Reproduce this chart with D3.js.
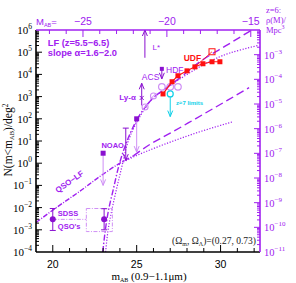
<!DOCTYPE html>
<html lang="en">
<head>
<meta charset="UTF-8">
<title>z~6 counts</title>
<style>
  body { margin: 0; background: #fff; }
  svg { display: block; }
  .serif { font-family: "Liberation Serif", "DejaVu Serif", serif; }
  .sans { font-family: "Liberation Sans", Arial, sans-serif; }
</style>
</head>
<body>
<svg id="chart" width="296" height="283"></svg>
<script src="https://cdn.jsdelivr.net/npm/d3@7/dist/d3.min.js"></script>
<script>
// all series: [m_AB, log10 N(<m)/deg2]
var qsoLF      = [[19, -2.67], [20.4, -1.9], [21.6, -1.27], [22.8, -0.6], [24, 0], [24.8, 0.33]];
var lowDashed  = [[24.8, 0.33], [25.8, 0.85], [27, 1.35], [28.5, 2.0], [30.45, 2.85], [31.7, 3.4]];
var lowDotted  = [[24.2, 0.05], [25, 0.35], [25.8, 0.6], [27, 0.95], [28.5, 1.35], [30.7, 1.86]];
var steepA     = [[22.98, -4], [23.1, -3.2], [23.3, -2.2], [23.6, -1.2], [24, 0.05], [24.4, 0.95], [24.8, 1.65], [25.2, 2.2], [25.6, 2.62]];
var upDashed   = [[25.6, 2.62], [26, 2.95], [26.6, 3.3], [27.5, 3.8], [28.77, 4.57], [30.43, 5.34], [31.86, 6.0]];
var steepB     = [[23.15, -4], [23.3, -3.0], [23.55, -2.0], [23.85, -1.0], [24.2, 0.1], [24.5, 1.0], [24.9, 1.7], [25.4, 2.35], [26, 2.95], [27, 3.5], [28, 4.0], [29.15, 4.5], [30.5, 4.95], [32.2, 5.3]];
var udfPoints  = [[26.57, 3.12], [27.11, 3.67], [27.46, 3.94], [28.0, 4.16], [28.47, 4.34], [28.95, 4.48], [29.49, 4.57], [29.96, 4.57]];
var udfOpen    = [29.49, 5.02];
var openCircles  = [[26.5, 3.44], [27.0, 3.44], [27.46, 3.44]];
var slashCircles = [[25.5, 2.53], [26.0, 3.03]];
var sdss       = {m: 20, n: -2.53, lo: -3.03, hi: -2.04};
var boxPoint   = {m: 23.06, n: -2.53, lo: -3.0, hi: -2.05};
var boxRange   = {m0: 22.0, m1: 23.55, n0: -3.08, n1: -2.04};
var noao       = {m: 23.0, n: 0.45, to: -1.0};
var sqLimit    = {m: 25.0, n: 2.0, to: 0.5};
var capLimit   = {m: 24.35, n: 1.58, to: 0.14};
var lyA        = {m: 25.3, n: 2.6, to: 3.6, x: 2.94};
var lStar      = {m: 25.49, n: 4.75};
var hdf        = {m: 26.5, n: 4.25, to: 3.8};
var z7         = {m: 27.0, n: 3.12, to: 2.1};

var leftExp  = [6, 5, 4, 3, 2, 1, 0, -1, -2, -3, -4];
var rightExp = [-3, -4, -5, -6, -7, -8, -9, -10, -11];
var mTicks   = [20, 25, 30];
var MTicks   = [-25, -20, -15];

var purple = "#a020f0", mark = "#8a10d0", light = "#cf8ff5", red = "#ff1010", cyan = "#10d0e8";

var svg = d3.select("#chart");
var x = d3.scaleLinear().domain([19, 32.35]).range([36, 260]);
var xM = d3.scaleLinear().domain([19 - 46.8, 32.35 - 46.8]).range([36, 260]);
var y = d3.scaleLinear().domain([-4, 6]).range([252, 30]);
var yR = d3.scaleLinear().domain([-11, -2]).range([252, 30]);

function minus(v) { return String(v).replace("-", "\u2212"); }

// curves
var line = d3.line().x(function (d) { return x(d[0]); }).y(function (d) { return y(d[1]); }).curve(d3.curveMonotoneX);
function curve(data, dash, w) {
  svg.append("path").datum(data).attr("d", line)
    .attr("fill", "none").attr("stroke", purple).attr("stroke-width", w || 1.4)
    .attr("stroke-dasharray", dash);
}
var lineY = d3.line().x(function (d) { return x(d[0]); }).y(function (d) { return y(d[1]); }).curve(d3.curveMonotoneY);
svg.append("path").datum(steepA).attr("d", lineY).attr("fill", "none").attr("stroke", purple)
  .attr("stroke-width", 1.4).attr("stroke-dasharray", "6,2,1.5,2");
svg.append("path").datum(steepB).attr("d", lineY).attr("fill", "none").attr("stroke", purple)
  .attr("stroke-width", 1.2).attr("stroke-dasharray", "1.2,1.6");
curve(qsoLF, "5,1.5,1,1.5");
curve(lowDashed, "8,4");
curve(lowDotted, "1.2,1.6", 1.2);
curve(upDashed, "8,4");

// arrows
function vArrow(m, n0, n1, col, w) {
  var xx = x(m), y0 = y(n0), y1 = y(n1), s = y1 > y0 ? -1 : 1;
  svg.append("line").attr("x1", xx).attr("x2", xx).attr("y1", y0).attr("y2", y1)
    .attr("stroke", col).attr("stroke-width", w || 1);
  svg.append("path").attr("d", "M" + (xx - 2.5) + "," + (y1 + s * 6) + "L" + xx + "," + y1 + "L" + (xx + 2.5) + "," + (y1 + s * 6))
    .attr("fill", "none").attr("stroke", col).attr("stroke-width", w || 1);
}
function square(m, n, col, size) {
  var s = size || 5;
  svg.append("rect").attr("x", x(m) - s / 2).attr("y", y(n) - s / 2).attr("width", s).attr("height", s).attr("fill", col);
}
function errBar(m, lo, hi, col) {
  var xx = x(m);
  svg.append("line").attr("x1", xx).attr("x2", xx).attr("y1", y(lo)).attr("y2", y(hi)).attr("stroke", col);
  [lo, hi].forEach(function (v) {
    svg.append("line").attr("x1", xx - 3).attr("x2", xx + 3).attr("y1", y(v)).attr("y2", y(v)).attr("stroke", col);
  });
}

// SDSS and the box
svg.append("line").attr("x1", x(sdss.m)).attr("x2", x(boxRange.m0)).attr("y1", y(sdss.n)).attr("y2", y(sdss.n))
  .attr("stroke", light).attr("stroke-dasharray", "4,1.5,1,1.5");
svg.append("rect").attr("x", x(boxRange.m0)).attr("y", y(boxRange.n1))
  .attr("width", x(boxRange.m1) - x(boxRange.m0)).attr("height", y(boxRange.n0) - y(boxRange.n1))
  .attr("fill", "none").attr("stroke", light).attr("stroke-dasharray", "4,1.5,1,1.5");
[sdss, boxPoint].forEach(function (p) {
  errBar(p.m, p.lo, p.hi, mark);
  svg.append("circle").attr("cx", x(p.m)).attr("cy", y(p.n)).attr("r", 3).attr("fill", mark);
});

vArrow(noao.m, noao.n, noao.to, light);
square(noao.m, noao.n, mark);
vArrow(sqLimit.m, sqLimit.n, sqLimit.to, light);
square(sqLimit.m, sqLimit.n, mark);
vArrow(capLimit.m, capLimit.n, capLimit.to, mark);
svg.append("line").attr("x1", x(capLimit.m) - 3).attr("x2", x(capLimit.m) + 3)
  .attr("y1", y(capLimit.n)).attr("y2", y(capLimit.n)).attr("stroke", mark);
vArrow(lyA.m, lyA.n, lyA.to, mark);
svg.append("path").attr("d", "M" + (x(lyA.m) - 2) + "," + (y(lyA.x) - 2) + "l4,4m0,-4l-4,4")
  .attr("stroke", mark).attr("fill", "none");
vArrow(lStar.m, lStar.n, 6, mark);
vArrow(hdf.m, hdf.n, hdf.to, mark);
square(hdf.m, hdf.n, mark, 4);

openCircles.forEach(function (p) {
  svg.append("circle").attr("cx", x(p[0])).attr("cy", y(p[1])).attr("r", 3.3)
    .attr("fill", "none").attr("stroke", light).attr("stroke-width", 1.2);
});
slashCircles.forEach(function (p) {
  svg.append("circle").attr("cx", x(p[0])).attr("cy", y(p[1])).attr("r", 3)
    .attr("fill", "none").attr("stroke", light).attr("stroke-width", 1.1);
  svg.append("line").attr("x1", x(p[0]) - 3).attr("x2", x(p[0]) + 3)
    .attr("y1", y(p[1]) + 3).attr("y2", y(p[1]) - 3).attr("stroke", light);
});

// z~7 limit
vArrow(z7.m, z7.n, z7.to, cyan);
svg.append("circle").attr("cx", x(z7.m)).attr("cy", y(z7.n)).attr("r", 3)
  .attr("fill", "#fff").attr("stroke", cyan).attr("stroke-width", 1.2);

// UDF
svg.append("path").datum(udfPoints).attr("d", d3.line().x(function (d) { return x(d[0]); }).y(function (d) { return y(d[1]); }))
  .attr("fill", "none").attr("stroke", red).attr("stroke-width", 1.1);
svg.append("line").attr("x1", x(udfPoints[4][0])).attr("y1", y(udfPoints[4][1]))
  .attr("x2", x(udfOpen[0])).attr("y2", y(udfOpen[1])).attr("stroke", red).attr("stroke-width", 0.8);
udfPoints.forEach(function (p) { square(p[0], p[1], red, 5); });
svg.append("rect").attr("x", x(udfOpen[0]) - 3).attr("y", y(udfOpen[1]) - 3).attr("width", 6).attr("height", 6)
  .attr("fill", "none").attr("stroke", red);

// frame and ticks
function tickLine(x1, y1, x2, y2, col) {
  return svg.append("line").attr("x1", x1).attr("y1", y1).attr("x2", x2).attr("y2", y2)
    .attr("stroke", col).attr("stroke-width", 1);
}
for (var e = -4; e < 6; e++) {
  for (var k = 1; k < 10; k++) {
    var v = e + Math.log10(k), len = k === 1 ? 6 : 3;
    if (k === 1 && e === -4) continue;
    tickLine(36, y(v), 36 + len, y(v), "#000");
  }
}
for (var e2 = -11; e2 < -2; e2++) {
  for (var k2 = 1; k2 < 10; k2++) {
    var v2 = e2 + Math.log10(k2), len2 = k2 === 1 ? 6 : 3;
    if (k2 === 1 && e2 === -11) continue;
    tickLine(260, yR(v2), 260 - len2, yR(v2), purple);
  }
}
for (var m = 20; m <= 32; m++) {
  tickLine(x(m), 252, x(m), 252 - (m % 5 === 0 ? 7 : 4), "#000");
}
for (var M = -27; M <= -15; M++) {
  tickLine(xM(M), 30, xM(M), 30 + (M % 5 === 0 ? 7 : 4), purple);
}
tickLine(36, 252, 260, 252, "#000").attr("stroke-width", 1.6);
tickLine(36, 30, 36, 252, "#000").attr("stroke-width", 1.6);
tickLine(36, 30, 260, 30, purple).attr("stroke-width", 1.6);
tickLine(260, 30, 260, 252, purple).attr("stroke-width", 1.6);

// tick labels
leftExp.forEach(function (ex) {
  var t = svg.append("text").attr("class", "serif").attr("x", 32).attr("y", y(ex) + 4)
    .attr("text-anchor", "end").attr("font-size", 11).text("10");
  t.append("tspan").attr("dy", -5).attr("font-size", 7.5).text(minus(ex));
});
rightExp.forEach(function (ex) {
  var t = svg.append("text").attr("class", "serif").attr("x", 264).attr("y", yR(ex) + 4)
    .attr("font-size", 10.5).attr("fill", purple).text("10");
  t.append("tspan").attr("dy", -5).attr("font-size", 7).text(minus(ex));
});
mTicks.forEach(function (v) {
  svg.append("text").attr("class", "sans").attr("x", x(v)).attr("y", 268)
    .attr("text-anchor", "middle").attr("font-size", 10.5).text(v);
});
MTicks.forEach(function (v) {
  svg.append("text").attr("class", "sans").attr("x", xM(v)).attr("y", 25)
    .attr("text-anchor", "middle").attr("font-size", 10.5).attr("fill", purple).text(minus(v));
});

// axis titles
var mab = svg.append("text").attr("class", "serif").attr("x", 149).attr("y", 280)
  .attr("text-anchor", "middle").attr("font-size", 11).text("m");
mab.append("tspan").attr("font-size", 6).attr("dy", 2).text("AB");
mab.append("tspan").attr("dy", -2).text(" (0.9\u22121.1\u03bcm)");

var yl = svg.append("text").attr("class", "serif").attr("transform", "translate(12,140) rotate(-90)")
  .attr("text-anchor", "middle").attr("font-size", 11.5).text("N(m<m");
yl.append("tspan").attr("font-size", 6.5).attr("dy", 2).text("AB");
yl.append("tspan").attr("dy", -2).text(")/deg");
yl.append("tspan").attr("font-size", 7.5).attr("dy", -4).text("2");

var mt = svg.append("text").attr("class", "sans").attr("x", 36).attr("y", 25)
  .attr("font-size", 9.5).attr("fill", purple).text("M");
mt.append("tspan").attr("font-size", 5.5).attr("dy", 2).text("AB");
mt.append("tspan").attr("dy", -2).text("=");

[["z=6:", 13], ["\u03c1(M)/", 23], ["Mpc", 33]].forEach(function (r, i) {
  var t = svg.append("text").attr("class", "serif").attr("x", 266).attr("y", r[1])
    .attr("font-size", 8.5).attr("fill", purple).text(r[0]);
  if (i === 2) t.append("tspan").attr("font-size", 6).attr("dy", -4).text("3");
});

// annotations
function note(txt, m, n, opt) {
  opt = opt || {};
  return svg.append("text").attr("class", opt.cls || "sans").attr("x", x(m)).attr("y", y(n))
    .attr("font-size", opt.size || 8).attr("font-weight", opt.bold ? "bold" : null)
    .attr("text-anchor", opt.anchor || "start").attr("fill", opt.col || purple).text(txt);
}
note("LF (z=5.5\u22126.5)", 19.7, 5.3, {size: 9.3, bold: true});
note("slope \u03b1=1.6\u22122.0", 19.7, 4.85, {size: 9.3, bold: true});
note("L*", 25.95, 5.1, {size: 8});
note("HDF", 26.75, 4.05, {size: 8.5});
note("ACS", 26.35, 3.75, {size: 8.5, anchor: "end"});
note("Ly-\u03b1", 24.95, 2.85, {size: 8, bold: true, anchor: "end"});
note("UDF", 27.8, 4.6, {size: 8.5, bold: true, col: red});
note("z\u22487 limits", 27.35, 2.6, {size: 6, bold: true, col: cyan});
note("NOAO", 22.9, 0.7, {size: 7.5, bold: true});
note("SDSS", 20.3, -2.38, {size: 7.5, bold: true});
note("QSO's", 20.3, -2.97, {size: 7.5, bold: true});
svg.append("text").attr("class", "sans").attr("font-size", 8).attr("font-weight", "bold").attr("fill", purple)
  .attr("transform", "translate(" + x(20.3) + "," + y(-1.35) + ") rotate(-35)").text("QSO\u2212LF");

var om = svg.append("text").attr("class", "serif").attr("x", 256).attr("y", 244)
  .attr("text-anchor", "end").attr("font-size", 9.5).attr("fill", "#222").text("(\u03a9");
om.append("tspan").attr("font-size", 6).attr("dy", 1.5).text("m");
om.append("tspan").attr("dy", -1.5).text(", \u03a9");
om.append("tspan").attr("font-size", 6).attr("dy", 1.5).text("\u039b");
om.append("tspan").attr("dy", -1.5).text(")=(0.27, 0.73)");
</script>
</body>
</html>
